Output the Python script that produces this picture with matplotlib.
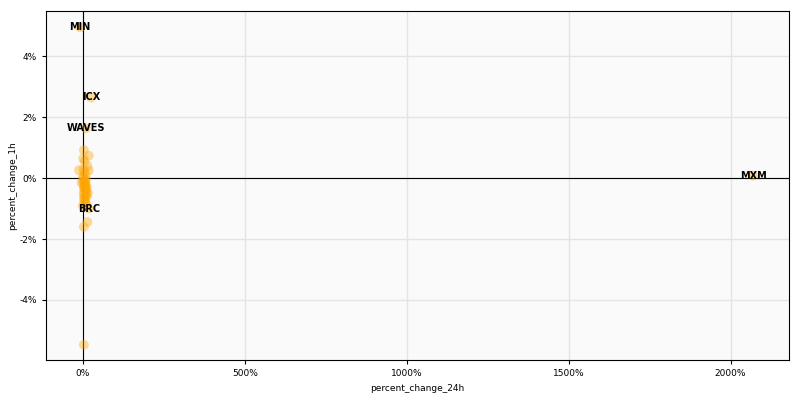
import matplotlib.pyplot as plt
from matplotlib.ticker import FuncFormatter

# percent change values
symbols = ['MIN', 'ICX', 'WAVES', 'MXM', 'BRC', 'c1', 'c2', 'c3', 'c4', 'c5', 'c6', 'c7', 'c8', 'c9',
           'c10', 'c11', 'c12', 'c13', 'c14', 'c15', 'c16', 'c17', 'c18', 'c19', 'c20', 'c21',
           'c22', 'c23', 'c24', 'c25', 'c26', 'c27', 'c28', 'c29', 'c30', 'c31', 'c32', 'c33',
           'c34', 'c35', 'c36', 'c37', 'c38', 'c39', 'c40', 'c41']
change_24h = [-9, 25, 9, 2070, 18, 3, 18, 1, 5, -12, 18, 4, 8, 2, 10, 6, 1, 7, 4, 9, 3, 6, 11, 2,
              5, 8, 3, 6, 4, 7, 9, 5, 3, 12, 3, 3, 14, 0, -4, 12, 14, 0, 10, 15, 2, 8]
change_1h = [4.95, 2.65, 1.63, 0.08, -1.0, 0.92, 0.74, 0.65, 0.55, 0.26, 0.25, 0.2, 0.1, 0.0,
             -0.05, -0.1, -0.15, -0.2, -0.25, -0.3, -0.35, -0.4, -0.45, -0.5, -0.55, -0.6,
             -0.65, -0.7, -0.75, -0.8, -0.4, -0.3, -0.1, -0.6, -1.6, -5.47, -1.44, 0.05,
             -0.15, -0.3, 0.4, -0.9, -0.85, -0.5, 0.3, -0.2]
labelled = ['MIN', 'ICX', 'WAVES', 'MXM', 'BRC']

fig, ax = plt.subplots(figsize=(8, 4), dpi=100)
ax.set_facecolor('#fafafa')
ax.scatter(change_24h, change_1h, s=50, color='orange', alpha=0.4, edgecolors='none', zorder=3)
for sym, x, y in zip(symbols, change_24h, change_1h):
    if sym in labelled:
        ax.text(x, y, sym, fontsize=7, fontweight='bold', ha='center', va='center', zorder=4)

ax.axhline(0, color='black', linewidth=0.8, zorder=2)
ax.axvline(0, color='black', linewidth=0.8, zorder=2)
ax.grid(True, color='#e4e4e4', linewidth=1)
ax.set_axisbelow(True)
ax.set_xlim(-114, 2180)
ax.set_ylim(-5.97, 5.48)
ax.set_xticks([0, 500, 1000, 1500, 2000])
ax.set_yticks([-4, -2, 0, 2, 4])
pct = FuncFormatter(lambda v, p: '{:.0f}%'.format(v))
ax.xaxis.set_major_formatter(pct)
ax.yaxis.set_major_formatter(pct)
ax.tick_params(labelsize=6.5, length=3)
ax.set_xlabel('percent_change_24h', fontsize=6.5)
ax.set_ylabel('percent_change_1h', fontsize=6.5, labelpad=2)

fig.subplots_adjust(left=0.0575, right=0.986, top=0.972, bottom=0.1)
fig.savefig('out.png')
